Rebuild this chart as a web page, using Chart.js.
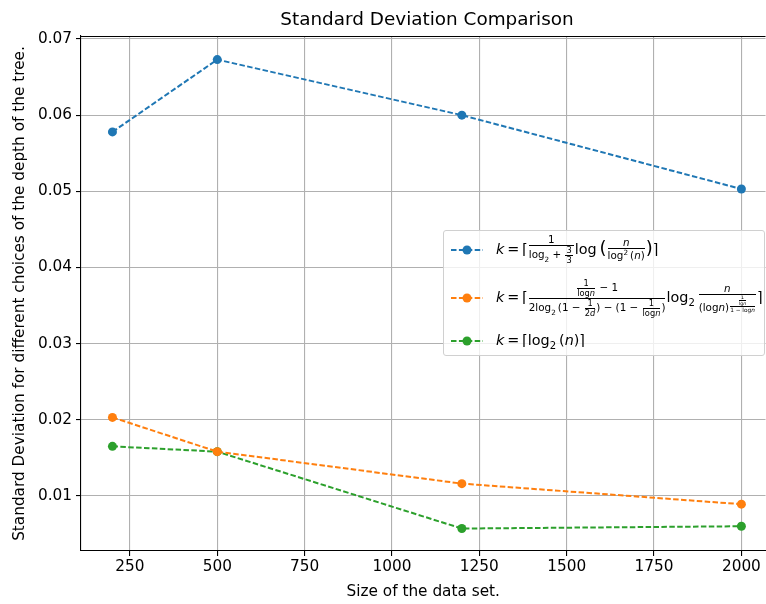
<!DOCTYPE html>
<html>
<head>
<meta charset="utf-8">
<script src="https://cdn.jsdelivr.net/npm/chart.js@4.4.1/dist/chart.umd.min.js"></script>
<style>
    html, body { margin: 0; padding: 0; background: #fff; overflow: hidden; }
    #wrap { position: relative; width: 766px; height: 604px; overflow: hidden; font-family: "DejaVu Sans", sans-serif; }
    #legend {
        position: absolute; left: 443px; top: 230px; width: 320px; height: 124px;
        border: 1px solid #d0d0d0; border-radius: 3px; background: rgba(255,255,255,0.8);
        color: #000; font-size: 14.4px;
    }
    .row { position: absolute; left: 6px; display: flex; align-items: center; white-space: nowrap; }
    .row svg { margin-right: 12px; flex: none; }
    .frac { display: inline-flex; flex-direction: column; vertical-align: middle; text-align: center; font-size: 0.72em; line-height: 1.08; margin: 0 1px; }
    .frac > span:first-child { border-bottom: 1px solid #000; padding: 0 1px; }
    .frac .frac { font-size: 0.8em; }
    .big { font-size: 1.25em; }
    sub, sup { font-size: 0.7em; }
</style>
</head>
<body>
<div id="wrap">
    <canvas id="chart" width="770" height="604"></canvas>
    <div id="legend"></div>
</div>
<script>
// Werte
const sizes = [200, 500, 1200, 2000];
const seriesA = [0.0578, 0.0673, 0.0600, 0.0503];
const seriesB = [0.0203, 0.0158, 0.0116, 0.0089];
const seriesC = [0.0165, 0.0158, 0.0057, 0.0060];
const xTicks = [250, 500, 750, 1000, 1250, 1500, 1750, 2000];
const yTicks = [0.01, 0.02, 0.03, 0.04, 0.05, 0.06, 0.07];
const colors = ['#1f77b4', '#ff7f0e', '#2ca02c'];

const fr = (a, b) => '<span class="frac"><span>' + a + '</span><span>' + b + '</span></span>';
const legendLabels = [
    '<i>k</i>&thinsp;=&thinsp;⌈' + fr('1', 'log<sub>2</sub> + ' + fr('3', '3')) + 'log&thinsp;<span class="big">(</span>' + fr('<i>n</i>', 'log<sup>2</sup>&thinsp;(<i>n</i>)') + '<span class="big">)</span>⌉',
    '<i>k</i>&thinsp;=&thinsp;⌈' + fr(fr('1', 'log<i>n</i>') + ' − 1', '2log<sub>2</sub>&thinsp;(1 − ' + fr('1', '2<i>d</i>') + ') − (1 − ' + fr('1', 'log<i>n</i>') + ')') +
        'log<sub>2</sub>&thinsp;' + fr('<i>n</i>', '(log<i>n</i>)<sup>' + fr(fr('1', 'lg<i>n</i>'), '1 − log<i>n</i>') + '</sup>') + '⌉',
    '<i>k</i>&thinsp;=&thinsp;⌈log<sub>2</sub>&thinsp;(<i>n</i>)⌉'
];
const legendTops = [3, 48, 101];

const toPoints = vals => sizes.map((s, i) => ({ x: s, y: vals[i] }));

function handle(color) {
    return '<svg width="34" height="12"><line x1="1" y1="6" x2="33" y2="6" stroke="' + color + '" stroke-width="2" stroke-dasharray="5.5 2.4"/>' +
        '<circle cx="17" cy="6" r="4.5" fill="' + color + '"/></svg>';
}

const legendEl = document.getElementById('legend');
legendLabels.forEach(function (lbl, i) {
    const row = document.createElement('div');
    row.className = 'row';
    row.style.top = legendTops[i] + 'px';
    row.innerHTML = handle(colors[i]) + '<span>' + lbl + '</span>';
    legendEl.appendChild(row);
});

// Titel und oberer Rahmen wie bei matplotlib
const framePlugin = {
    id: 'frame',
    afterDraw: function (chart) {
        const c = chart.ctx, a = chart.chartArea;
        c.save();
        c.strokeStyle = '#000';
        c.lineWidth = 1.1;
        c.beginPath();
        c.moveTo(a.left, a.top + 0.5);
        c.lineTo(a.right, a.top + 0.5);
        c.stroke();
        c.fillStyle = '#000';
        c.font = '18.4px "DejaVu Sans"';
        c.textAlign = 'center';
        c.textBaseline = 'middle';
        c.fillText('Standard Deviation Comparison', 427, 20);
        c.restore();
    }
};

const font = { family: 'DejaVu Sans', size: 15.3 };

new Chart(document.getElementById('chart'), {
    type: 'line',
    data: {
        datasets: [seriesA, seriesB, seriesC].map(function (vals, i) {
            return {
                data: toPoints(vals),
                borderColor: colors[i],
                backgroundColor: colors[i],
                borderWidth: 2,
                borderDash: [5.5, 2.4],
                pointRadius: 4.5,
                pointBorderWidth: 0,
                tension: 0,
                fill: false
            };
        })
    },
    options: {
        responsive: false,
        animation: false,
        layout: { padding: { top: 36, right: 0, left: 0, bottom: 0 } },
        plugins: { legend: { display: false }, tooltip: { enabled: false } },
        scales: {
            x: {
                type: 'linear',
                min: 110,
                max: 2069,
                afterBuildTicks: function (s) { s.ticks = xTicks.map(v => ({ value: v })); },
                afterFit: function (s) { s.height = 53; s.paddingLeft = 0; s.paddingRight = 0; },
                ticks: { color: '#000', font: font, padding: 2, maxRotation: 0, callback: v => String(v) },
                grid: { color: '#b0b0b0', lineWidth: 1.1, tickColor: '#000', tickLength: 5 },
                border: { color: '#000', width: 1.1 },
                title: { display: true, text: 'Size of the data set.', color: '#000', font: font, padding: { top: 0, bottom: 3 } }
            },
            y: {
                min: 0.00275,
                max: 0.0704,
                afterBuildTicks: function (s) { s.ticks = yTicks.map(v => ({ value: v })); },
                afterFit: function (s) { s.width = 81; s.paddingTop = 0; s.paddingBottom = 0; },
                ticks: { color: '#000', font: font, padding: 4, callback: v => v.toFixed(2) },
                grid: { color: '#b0b0b0', lineWidth: 1.1, tickColor: '#000', tickLength: 5 },
                border: { color: '#000', width: 1.1 },
                title: { display: true, text: 'Standard Deviation for different choices of the depth of the tree.', color: '#000', font: font, padding: { top: 11, bottom: 0 } }
            }
        }
    },
    plugins: [framePlugin]
});
</script>
</body>
</html>
